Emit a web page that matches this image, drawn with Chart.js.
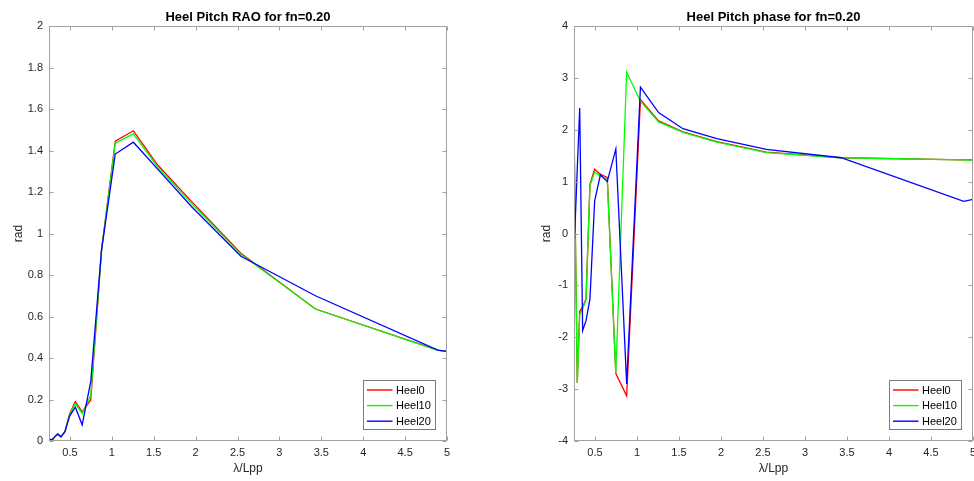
<!DOCTYPE html>
<html>
<head>
<meta charset="utf-8">
<script src="https://cdn.jsdelivr.net/npm/chart.js@4.4.1/dist/chart.umd.min.js"></script>
<style>
  html, body { margin: 0; padding: 0; background: #fff; }
  #wrap { position: relative; width: 974px; height: 481px; overflow: hidden; }
  canvas { position: absolute; top: 0; }
  #c1 { left: 0; }
  #c2 { left: 487px; }
</style>
</head>
<body>
<div id="wrap">
  <canvas id="c1" width="487" height="481"></canvas>
  <canvas id="c2" width="487" height="481"></canvas>
</div>
<script>
// ---- data ----
const lambdaLpp = [0.25, 0.289, 0.318, 0.353, 0.393, 0.44, 0.496, 0.564, 0.646, 0.748, 0.877, 1.041, 1.257, 1.547, 1.95, 2.54, 3.43, 4.89, 5.0];

const raoHeel0  = [0.008, 0.006, 0.020, 0.035, 0.020, 0.045, 0.130, 0.190, 0.140, 0.198, 0.920, 1.445, 1.495, 1.330, 1.155, 0.905, 0.636, 0.438, 0.432];
const raoHeel10 = [0.008, 0.006, 0.020, 0.035, 0.020, 0.045, 0.125, 0.180, 0.132, 0.220, 0.920, 1.435, 1.480, 1.320, 1.145, 0.900, 0.636, 0.437, 0.432];
const raoHeel20 = [0.008, 0.006, 0.020, 0.033, 0.020, 0.045, 0.120, 0.163, 0.078, 0.286, 0.920, 1.383, 1.440, 1.310, 1.130, 0.890, 0.700, 0.438, 0.432];

const phaseHeel0  = [2.07, -2.88, -1.50, -1.42, -1.26, 0.95, 1.24, 1.14, 1.08, -2.70, -3.13, 2.58, 2.17, 1.96, 1.77, 1.57, 1.46, 1.42, 1.42];
const phaseHeel10 = [2.03, -2.88, -1.56, -1.45, -1.28, 0.93, 1.18, 1.11, 1.04, -2.70, 3.11, 2.55, 2.15, 1.95, 1.76, 1.56, 1.46, 1.42, 1.41];
const phaseHeel20 = [-0.36, 1.25, 2.42, -1.87, -1.68, -1.26, 0.63, 1.13, 1.00, 1.63, -2.90, 2.82, 2.33, 2.02, 1.83, 1.62, 1.46, 0.62, 0.66];

const xTicks = [0.5, 1, 1.5, 2, 2.5, 3, 3.5, 4, 4.5, 5];
const raoTicks = [0, 0.2, 0.4, 0.6, 0.8, 1, 1.2, 1.4, 1.6, 1.8, 2];
const phaseTicks = [-4, -3, -2, -1, 0, 1, 2, 3, 4];

const seriesNames = ['Heel0', 'Heel10', 'Heel20'];
const seriesColors = ['#ff0000', '#00ff00', '#0000ff'];

// ---- styling helpers ----
const FONT = '"Liberation Sans", Arial, Helvetica, sans-serif';
const TXT = '#262626';
const AXC = '#a0a0a0';

function pts(ys) { return lambdaLpp.map((x, i) => ({ x: x, y: ys[i] })); }

const framePlugin = {
  id: 'frame',
  afterDraw(chart) {
    const ctx = chart.ctx;
    const a = chart.chartArea;
    const xs = chart.scales.x, ys = chart.scales.y;
    ctx.save();
    ctx.strokeStyle = AXC;
    ctx.lineWidth = 1;
    const L = Math.round(a.left) + 0.5, R = Math.round(a.right) - 0.5;
    const T = Math.round(a.top) + 0.5, B = Math.round(a.bottom) - 0.5;
    ctx.strokeRect(L, T, R - L, B - T);
    const tl = 4;
    ctx.beginPath();
    xs.ticks.forEach(t => {
      const px = Math.round(xs.getPixelForValue(t.value)) + 0.5;
      ctx.moveTo(px, B); ctx.lineTo(px, B - tl);
      ctx.moveTo(px, T); ctx.lineTo(px, T + tl);
    });
    ys.ticks.forEach(t => {
      const py = Math.round(ys.getPixelForValue(t.value)) + 0.5;
      ctx.moveTo(L, py); ctx.lineTo(L + tl, py);
      ctx.moveTo(R, py); ctx.lineTo(R - tl, py);
    });
    ctx.stroke();

    // legend (inside plot, bottom-right)
    ctx.font = '11px ' + FONT;
    let tw = 0;
    seriesNames.forEach(n => { tw = Math.max(tw, ctx.measureText(n).width); });
    const bw = Math.round(33 + tw + 4), bh = 49;
    const bx = Math.round(a.right - 84) + 0.5;
    const by = Math.round(a.bottom - 61) + 0.5;
    ctx.fillStyle = '#fff';
    ctx.fillRect(bx, by, bw, bh);
    ctx.strokeStyle = '#7a7a7a';
    ctx.lineWidth = 1;
    ctx.strokeRect(bx, by, bw, bh);
    seriesNames.forEach((n, i) => {
      const ry = by + 9.5 + i * 15.6;
      ctx.strokeStyle = seriesColors[i];
      ctx.lineWidth = 1.4;
      ctx.beginPath();
      ctx.moveTo(bx + 3.5, ry); ctx.lineTo(bx + 29, ry);
      ctx.stroke();
      ctx.fillStyle = '#000';
      ctx.textBaseline = 'middle';
      ctx.textAlign = 'left';
      ctx.fillText(n, bx + 32.5, ry + 0.5);
    });
    ctx.restore();
  }
};

function makeChart(id, title, series, yMin, yMax, yTickVals, yWidth, yTitlePad, rightPad) {
  return new Chart(document.getElementById(id), {
    type: 'line',
    data: {
      datasets: series.map((s, i) => ({
        label: seriesNames[i],
        data: pts(s),
        borderColor: seriesColors[i],
        backgroundColor: seriesColors[i],
        borderWidth: 1.3,
        pointRadius: 0,
        tension: 0,
        fill: false,
        order: 2 - i
      }))
    },
    options: {
      responsive: false,
      animation: false,
      events: [],
      layout: { padding: { left: 0, right: rightPad, top: 0, bottom: 0 } },
      plugins: {
        legend: { display: false },
        tooltip: { enabled: false },
        title: {
          display: true,
          text: title,
          fullSize: false,
          color: '#000',
          font: { family: FONT, size: 13, weight: 'bold', lineHeight: 1.2 },
          padding: { top: 9.2, bottom: 1.2 }
        }
      },
      scales: {
        x: {
          type: 'linear',
          min: 0.25, max: 5,
          grid: { display: false, drawTicks: false },
          border: { display: false },
          afterBuildTicks: s => { s.ticks = xTicks.map(v => ({ value: v })); },
          afterFit: s => { s.height = 40; s.paddingLeft = 0; s.paddingRight = 0; },
          ticks: {
            color: TXT, padding: 5, maxRotation: 0, autoSkip: false,
            font: { family: FONT, size: 11 },
            callback: v => String(v)
          },
          title: {
            display: true, text: 'λ/Lpp', color: TXT,
            font: { family: FONT, size: 12, lineHeight: 1.2 },
            padding: { top: 0, bottom: 4.8 }
          }
        },
        y: {
          type: 'linear',
          min: yMin, max: yMax,
          grid: { display: false, drawTicks: false },
          border: { display: false },
          afterBuildTicks: s => { s.ticks = yTickVals.map(v => ({ value: v })); },
          afterFit: s => { s.width = yWidth; s.paddingTop = 0; s.paddingBottom = 0; },
          ticks: {
            color: TXT, padding: 6, autoSkip: false,
            font: { family: FONT, size: 11 },
            callback: v => String(v)
          },
          title: {
            display: true, text: 'rad', color: TXT,
            font: { family: FONT, size: 12, lineHeight: 1.2 },
            padding: { top: yTitlePad, bottom: 0 }
          }
        }
      }
    },
    plugins: [framePlugin]
  });
}

makeChart('c1', 'Heel Pitch RAO for fn=0.20', [raoHeel0, raoHeel10, raoHeel20], 0, 2, raoTicks, 49, 11.5, 40);
makeChart('c2', 'Heel Pitch phase for fn=0.20', [phaseHeel0, phaseHeel10, phaseHeel20], -4, 4, phaseTicks, 87, 52.5, 1);
</script>
</body>
</html>
